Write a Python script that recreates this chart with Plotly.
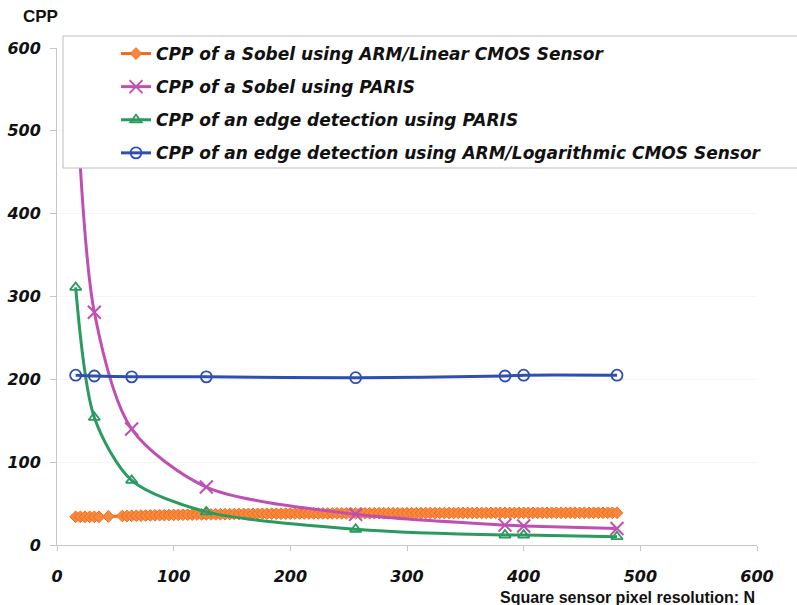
import plotly.graph_objects as go

# ---------------- data ----------------
sobel_arm_x = [16, 20, 24, 28, 32, 36, 44,
               56, 60, 64, 68, 72, 76, 80, 84, 88, 92, 96,
               100, 104, 108, 112, 116, 120, 124, 128, 132, 136, 140, 144, 148,
               152, 156, 160, 164, 168, 172, 176, 180, 184, 188, 192, 196,
               200, 204, 208, 212, 216, 220, 224, 228, 232, 236, 240, 244, 248,
               252, 256, 260, 264, 268, 272, 276, 280, 284, 288, 292, 296,
               300, 304, 308, 312, 316, 320, 324, 328, 332, 336, 340, 344, 348,
               352, 356, 360, 364, 368, 372, 376, 380, 384, 388, 392, 396,
               400, 404, 408, 412, 416, 420, 424, 428, 432, 436, 440, 444, 448,
               452, 456, 460, 464, 468, 472, 476, 480]
sobel_arm_y = [34, 34, 34, 34, 34, 34, 34.5,
               35, 35, 35.2, 35.3, 35.5, 35.6, 35.8, 35.9, 36, 36.1, 36.2,
               36.3, 36.4, 36.5, 36.6, 36.7, 36.8, 36.9, 37, 37, 37.1, 37.2, 37.2, 37.3,
               37.4, 37.4, 37.5, 37.5, 37.6, 37.6, 37.7, 37.7, 37.8, 37.8, 37.8, 37.9,
               37.9, 38, 38, 38, 38, 38.1, 38.1, 38.1, 38.1, 38.2, 38.2, 38.2, 38.2,
               38.3, 38.3, 38.3, 38.3, 38.3, 38.4, 38.4, 38.4, 38.4, 38.4, 38.5, 38.5,
               38.5, 38.5, 38.5, 38.5, 38.6, 38.6, 38.6, 38.6, 38.6, 38.6, 38.6, 38.7, 38.7,
               38.7, 38.7, 38.7, 38.7, 38.7, 38.7, 38.8, 38.8, 38.8, 38.8, 38.8, 38.8,
               38.8, 38.8, 38.8, 38.8, 38.9, 38.9, 38.9, 38.9, 38.9, 38.9, 38.9, 38.9, 38.9,
               38.9, 38.9, 38.9, 38.9, 38.9, 38.9, 38.9, 38.9]

paris_x = [16, 32, 64, 128, 256, 384, 400, 480]
sobel_paris_y = [562, 281, 140, 70, 37, 24, 23, 20]
edge_paris_y = [311, 154, 78, 40, 19, 12, 12, 10]
edge_arm_y = [205, 204, 203, 203, 202, 204, 205, 205]

series_names = [
    "CPP of a Sobel using ARM/Linear CMOS Sensor",
    "CPP of a Sobel using PARIS",
    "CPP of an edge detection using PARIS",
    "CPP of an edge detection using ARM/Logarithmic CMOS Sensor",
]
x_ticks = [0, 100, 200, 300, 400, 500, 600]
y_ticks = [0, 100, 200, 300, 400, 500, 600]

# ---------------- styles ----------------
ORANGE = "#f26a1b"
MAGENTA = "#c04fb4"
GREEN = "#2a9b5e"
BLUE = "#2f4fb0"
AX = "#c6c6c6"
W, H = 797, 605
L, R, T, B = 57, 40, 48, 60
PW, PH = W - L - R, H - T - B


def px(x):
    return (x - L) / PW


def py(y):
    return (H - B - y) / PH


fig = go.Figure()
fig.add_trace(go.Scatter(
    x=sobel_arm_x, y=sobel_arm_y, name=series_names[0], mode="lines+markers",
    line=dict(color=ORANGE, width=3),
    marker=dict(symbol="diamond", size=9, color="#f7893f",
                line=dict(color=ORANGE, width=1)),
    legendgroup="a"))
fig.add_trace(go.Scatter(
    x=paris_x, y=sobel_paris_y, name=series_names[1], mode="lines+markers",
    line=dict(color=MAGENTA, width=3, shape="spline", smoothing=0.8),
    marker=dict(symbol="x-thin", size=13, color=MAGENTA,
                line=dict(color=MAGENTA, width=2)),
    legendgroup="b"))
fig.add_trace(go.Scatter(
    x=paris_x, y=edge_paris_y, name=series_names[2], mode="lines+markers",
    line=dict(color=GREEN, width=3, shape="spline", smoothing=0.8),
    marker=dict(symbol="triangle-up-open", size=10, color=GREEN,
                line=dict(color=GREEN, width=1.8)),
    legendgroup="c"))
fig.add_trace(go.Scatter(
    x=paris_x, y=edge_arm_y, name=series_names[3], mode="lines+markers",
    line=dict(color=BLUE, width=3, shape="spline", smoothing=0.8),
    marker=dict(symbol="circle-open", size=11, color=BLUE,
                line=dict(color=BLUE, width=1.8)),
    legendgroup="d"))

tick_font = dict(family="DejaVu Sans", size=16, color="#111111",
                 style="italic", weight="bold")

fig.update_layout(
    template="none",
    width=W, height=H,
    margin=dict(l=L, r=R, t=T, b=B, autoexpand=False),
    paper_bgcolor="white", plot_bgcolor="white",
    showlegend=True,
    legend=dict(
        x=px(116), y=py(36), xanchor="left", yanchor="top",
        bgcolor="rgba(0,0,0,0)", borderwidth=0,
        font=dict(family="DejaVu Sans", size=17, color="#111111",
                  style="italic", weight="bold"),
        tracegroupgap=8, traceorder="grouped",
    ),
    xaxis=dict(range=[0, 600], tickvals=x_ticks, ticktext=[str(v) for v in x_ticks],
               showline=True, linecolor=AX, linewidth=1, automargin=False,
               ticks="outside", ticklen=5, tickcolor=AX,
               showgrid=False, zeroline=False, tickfont=tick_font,
               ticklabelstandoff=12),
    yaxis=dict(range=[0, 600], tickvals=y_ticks, ticktext=[str(v) for v in y_ticks],
               showline=True, linecolor=AX, linewidth=1, automargin=False,
               ticks="outside", ticklen=6, tickcolor=AX,
               showgrid=True, gridcolor="#f5f5f5", zeroline=False,
               tickfont=tick_font, ticklabelstandoff=6),
    shapes=[dict(type="rect", xref="paper", yref="paper", layer="above",
                 x0=px(63), x1=px(805), y0=py(168), y1=py(36),
                 fillcolor="white", line=dict(color="#bdbdbd", width=1))],
    annotations=[
        dict(text="<b>CPP</b>", xref="paper", yref="paper", x=px(21), y=py(17),
             xanchor="left", yanchor="middle", showarrow=False,
             font=dict(family="Liberation Sans", size=17, color="#111111")),
        dict(text="<b>Square sensor pixel resolution: N</b>", xref="paper", yref="paper",
             x=px(757), y=py(597), xanchor="right", yanchor="middle", showarrow=False,
             font=dict(family="Liberation Sans", size=16, color="#111111")),
    ],
)

fig.write_html("out.html")
